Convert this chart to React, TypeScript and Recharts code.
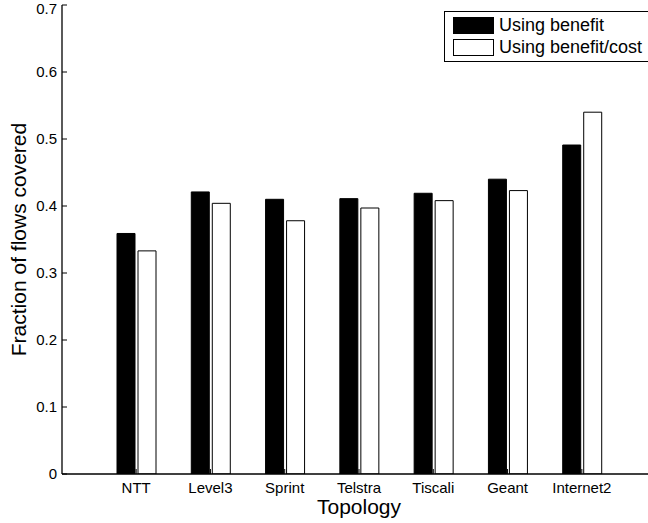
import { BarChart, Bar, XAxis, YAxis, Legend } from "recharts";

const topologies = ["NTT", "Level3", "Sprint", "Telstra", "Tiscali", "Geant", "Internet2"];
const usingBenefit = [0.359, 0.421, 0.41, 0.411, 0.419, 0.44, 0.491];
const usingBenefitCost = [0.333, 0.404, 0.378, 0.397, 0.408, 0.423, 0.54];
const yTicks = [0, 0.1, 0.2, 0.3, 0.4, 0.5, 0.6, 0.7];

const SERIES = [
  { key: "benefit", name: "Using benefit", fill: "#000000" },
  { key: "benefitCost", name: "Using benefit/cost", fill: "#ffffff" },
];

const data = topologies.map((name, i) => ({
  name,
  benefit: usingBenefit[i],
  benefitCost: usingBenefitCost[i],
}));

const FONT = '"Liberation Sans", Arial, Helvetica, sans-serif';

function LegendBox() {
  return (
    <div
      style={{
        border: "1px solid #000",
        background: "#fff",
        padding: "2px 0 3px 8px",
        fontFamily: FONT,
        fontSize: 18,
        color: "#000",
      }}
    >
      {SERIES.map((s) => (
        <div key={s.key} style={{ display: "flex", alignItems: "center", height: 22 }}>
          <span
            style={{
              flex: "none",
              width: 41,
              height: 17,
              background: s.fill,
              border: "1px solid #000",
              boxSizing: "border-box",
              marginRight: 5,
            }}
          />
          <span style={{ whiteSpace: "nowrap" }}>{s.name}</span>
        </div>
      ))}
    </div>
  );
}

function YTitle(props: any) {
  const vb = props.viewBox ?? { x: 0, y: 5, width: 62, height: 469 };
  const cx = 25.5;
  const cy = vb.y + vb.height / 2;
  return (
    <text
      x={cx}
      y={cy}
      transform={`rotate(-90 ${cx} ${cy})`}
      textAnchor="middle"
      fontFamily={FONT}
      fontSize={21}
      fill="#000"
    >
      Fraction of flows covered
    </text>
  );
}

function XTitle(props: any) {
  const vb = props.viewBox ?? { x: 62, y: 474, width: 594, height: 49 };
  return (
    <text
      x={vb.x + vb.width / 2}
      y={514}
      textAnchor="middle"
      fontFamily={FONT}
      fontSize={21}
      fill="#000"
    >
      Topology
    </text>
  );
}

const tickStyle = { fontSize: 15, fill: "#000", fontFamily: FONT };

export default function App() {
  return (
    <div style={{ position: "relative", width: 648, height: 523, overflow: "hidden", background: "#fff" }}>
      <style>{`body { margin: 0; }`}</style>
      <BarChart
        width={648}
        height={523}
        data={data}
        margin={{ top: 5, right: -8, bottom: 0, left: 0 }}
        barSize={18}
        barGap={3}
      >
        <XAxis
          dataKey="name"
          height={49}
          padding={{ left: 37, right: 37 }}
          tick={tickStyle}
          tickSize={-5}
          tickMargin={13}
          tickLine={{ stroke: "#000" }}
          axisLine={{ stroke: "#000", strokeWidth: 1.3 }}
          interval={0}
          label={<XTitle />}
        />
        <XAxis
          xAxisId="top"
          orientation="top"
          dataKey="name"
          height={0}
          padding={{ left: 37, right: 37 }}
          tickFormatter={() => ""}
          tickSize={-5}
          tickLine={{ stroke: "#000" }}
          axisLine={{ stroke: "#000", strokeWidth: 1.3 }}
          interval={0}
        />
        <YAxis
          width={62}
          domain={[0, 0.7]}
          ticks={yTicks}
          tick={tickStyle}
          tickFormatter={(v: number) => String(v)}
          tickSize={-5}
          tickMargin={10}
          tickLine={{ stroke: "#000" }}
          axisLine={{ stroke: "#000", strokeWidth: 1.3 }}
          allowDataOverflow
          label={<YTitle />}
        />
        <Legend
          layout="vertical"
          align="center"
          verticalAlign="middle"
          content={() => <LegendBox />}
          wrapperStyle={{ top: 11, left: 444, width: 214, height: "auto" }}
        />
        {SERIES.map((s) => (
          <Bar
            key={s.key}
            dataKey={s.key}
            name={s.name}
            fill={s.fill}
            stroke="#000"
            strokeWidth={1}
            isAnimationActive={false}
          />
        ))}
      </BarChart>
    </div>
  );
}
